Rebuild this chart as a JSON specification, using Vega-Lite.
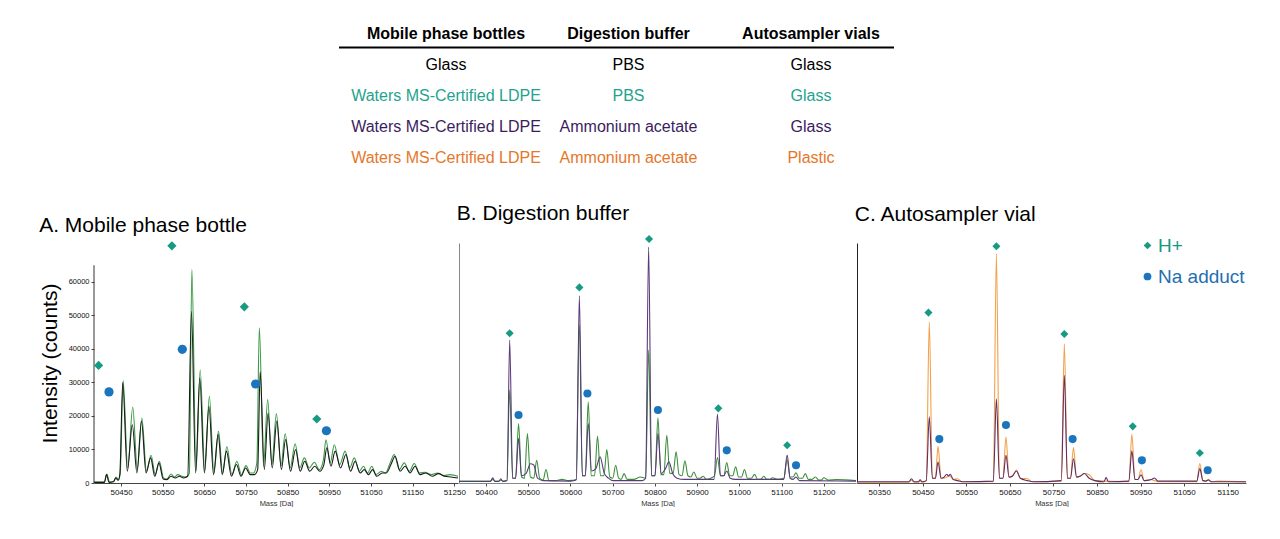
{
"$schema": "https://vega.github.io/schema/vega-lite/v6.json",
"padding": {"left": 39, "top": 18, "right": 0, "bottom": 0},
"bounds": "flush",
"spacing": 70,
"resolve": {"scale": {"color": "independent", "shape": "independent"}, "legend": {"color": "independent", "shape": "independent"}},
"config": {
  "view": {"stroke": null},
  "font": "Liberation Sans",
  "title": {"fontSize": 21, "fontWeight": "normal", "anchor": "start", "color": "#000", "baseline": "alphabetic", "font": "Liberation Sans", "frame": "bounds"},
  "axis": {"labelFont": "Liberation Sans", "titleFont": "Liberation Sans", "titleFontWeight": "normal", "grid": false, "labelColor": "#111", "titleColor": "#333", "tickColor": "#444", "domainColor": "#444", "labelOverlap": false}
},
"datasets": {
  "tbl": [
    {"r": 0, "c": 1, "t": "Mobile phase bottles", "g": "k"},
    {"r": 0, "c": 2, "t": "Digestion buffer", "g": "k"},
    {"r": 0, "c": 3, "t": "Autosampler vials", "g": "k"},
    {"r": 1, "c": 1, "t": "Glass", "g": "k"},
    {"r": 1, "c": 2, "t": "PBS", "g": "k"},
    {"r": 1, "c": 3, "t": "Glass", "g": "k"},
    {"r": 2, "c": 1, "t": "Waters MS-Certified LDPE", "g": "t"},
    {"r": 2, "c": 2, "t": "PBS", "g": "t"},
    {"r": 2, "c": 3, "t": "Glass", "g": "t"},
    {"r": 3, "c": 1, "t": "Waters MS-Certified LDPE", "g": "p"},
    {"r": 3, "c": 2, "t": "Ammonium acetate", "g": "p"},
    {"r": 3, "c": 3, "t": "Glass", "g": "p"},
    {"r": 4, "c": 1, "t": "Waters MS-Certified LDPE", "g": "o"},
    {"r": 4, "c": 2, "t": "Ammonium acetate", "g": "o"},
    {"r": 4, "c": 3, "t": "Plastic", "g": "o"}
  ],
  "am": [
    {"t": "H+", "x": 50396, "y": 35100},
    {"t": "H+", "x": 50572, "y": 70800},
    {"t": "H+", "x": 50746, "y": 52600},
    {"t": "H+", "x": 50920, "y": 19100},
    {"t": "Na adduct", "x": 50421, "y": 27200},
    {"t": "Na adduct", "x": 50597, "y": 39900},
    {"t": "Na adduct", "x": 50773, "y": 29550},
    {"t": "Na adduct", "x": 50943, "y": 15600}
  ],
  "bm": [
    {"t": "H+", "x": 50456, "y": 62.4},
    {"t": "H+", "x": 50621, "y": 81.5},
    {"t": "H+", "x": 50786, "y": 101.7},
    {"t": "H+", "x": 50950, "y": 31.1},
    {"t": "H+", "x": 51113, "y": 15.7},
    {"t": "Na adduct", "x": 50477, "y": 28.3},
    {"t": "Na adduct", "x": 50640, "y": 37.3},
    {"t": "Na adduct", "x": 50807, "y": 30.4},
    {"t": "Na adduct", "x": 50970, "y": 13.6},
    {"t": "Na adduct", "x": 51134, "y": 7.4}
  ],
  "cm": [
    {"t": "H+", "x": 50463, "y": 72.2},
    {"t": "H+", "x": 50619, "y": 100.3},
    {"t": "H+", "x": 50775, "y": 63.1},
    {"t": "H+", "x": 50932, "y": 24.0},
    {"t": "H+", "x": 51086, "y": 12.7},
    {"t": "Na adduct", "x": 50488, "y": 18.6},
    {"t": "Na adduct", "x": 50641, "y": 24.6},
    {"t": "Na adduct", "x": 50794, "y": 18.6},
    {"t": "Na adduct", "x": 50953, "y": 9.6},
    {"t": "Na adduct", "x": 51104, "y": 5.4}
  ],
  "a": [
    {"s":"g","x":50385,"y":300},{"s":"g","x":50410,"y":300},{"s":"g","x":50416,"y":2700},{"s":"g","x":50422,"y":300},{"s":"g","x":50433,"y":500},{"s":"g","x":50438,"y":1800},{"s":"g","x":50444,"y":1000},{"s":"g","x":50448,"y":3000},{"s":"g","x":50455,"y":30600},{"s":"g","x":50466,"y":4500},{"s":"g","x":50478,"y":22700},{"s":"g","x":50489,"y":4000},{"s":"g","x":50500,"y":19400},{"s":"g","x":50511,"y":3500},{"s":"g","x":50522,"y":8300},{"s":"g","x":50532,"y":2500},{"s":"g","x":50542,"y":6500},{"s":"g","x":50552,"y":1500},{"s":"g","x":50560,"y":1200},{"s":"g","x":50570,"y":2700},{"s":"g","x":50578,"y":1800},{"s":"g","x":50586,"y":2500},{"s":"g","x":50596,"y":2000},{"s":"g","x":50606,"y":1800},{"s":"g","x":50614,"y":3000},{"s":"g","x":50620,"y":63700},{"s":"g","x":50630,"y":3500},{"s":"g","x":50640,"y":33800},{"s":"g","x":50651,"y":3500},{"s":"g","x":50662,"y":25900},{"s":"g","x":50673,"y":3000},{"s":"g","x":50684,"y":15400},{"s":"g","x":50694,"y":3000},{"s":"g","x":50704,"y":10900},{"s":"g","x":50716,"y":2500},{"s":"g","x":50728,"y":6500},{"s":"g","x":50739,"y":2500},{"s":"g","x":50750,"y":5200},{"s":"g","x":50760,"y":3000},{"s":"g","x":50768,"y":3000},{"s":"g","x":50776,"y":6000},{"s":"g","x":50782,"y":46300},{"s":"g","x":50792,"y":5000},{"s":"g","x":50802,"y":24900},{"s":"g","x":50812,"y":5500},{"s":"g","x":50823,"y":20700},{"s":"g","x":50834,"y":5000},{"s":"g","x":50844,"y":14700},{"s":"g","x":50856,"y":4500},{"s":"g","x":50868,"y":11700},{"s":"g","x":50879,"y":4500},{"s":"g","x":50890,"y":7500},{"s":"g","x":50902,"y":4500},{"s":"g","x":50914,"y":6200},{"s":"g","x":50926,"y":4000},{"s":"g","x":50936,"y":7000},{"s":"g","x":50942,"y":12900},{"s":"g","x":50952,"y":6000},{"s":"g","x":50962,"y":11400},{"s":"g","x":50975,"y":5500},{"s":"g","x":50988,"y":9500},{"s":"g","x":50999,"y":4500},{"s":"g","x":51010,"y":7500},{"s":"g","x":51022,"y":3500},{"s":"g","x":51032,"y":5000},{"s":"g","x":51042,"y":3000},{"s":"g","x":51052,"y":5000},{"s":"g","x":51062,"y":2500},{"s":"g","x":51075,"y":3500},{"s":"g","x":51085,"y":3000},{"s":"g","x":51096,"y":6000},{"s":"g","x":51106,"y":8500},{"s":"g","x":51118,"y":4000},{"s":"g","x":51130,"y":6000},{"s":"g","x":51142,"y":3500},{"s":"g","x":51154,"y":5800},{"s":"g","x":51166,"y":3000},{"s":"g","x":51180,"y":3200},{"s":"g","x":51195,"y":2500},{"s":"g","x":51210,"y":3000},{"s":"g","x":51225,"y":2200},{"s":"g","x":51240,"y":2500},{"s":"g","x":51259,"y":2000},
    {"s":"k","x":50385,"y":200},{"s":"k","x":50410,"y":200},{"s":"k","x":50415,"y":2500},{"s":"k","x":50421,"y":200},{"s":"k","x":50432,"y":400},{"s":"k","x":50437,"y":1500},{"s":"k","x":50443,"y":800},{"s":"k","x":50447,"y":2500},{"s":"k","x":50454,"y":30000},{"s":"k","x":50465,"y":3500},{"s":"k","x":50477,"y":17400},{"s":"k","x":50488,"y":3000},{"s":"k","x":50499,"y":18500},{"s":"k","x":50510,"y":3000},{"s":"k","x":50521,"y":7500},{"s":"k","x":50531,"y":2000},{"s":"k","x":50541,"y":6000},{"s":"k","x":50551,"y":1200},{"s":"k","x":50560,"y":1000},{"s":"k","x":50570,"y":2000},{"s":"k","x":50580,"y":1500},{"s":"k","x":50590,"y":2000},{"s":"k","x":50600,"y":1500},{"s":"k","x":50610,"y":2000},{"s":"k","x":50619,"y":51200},{"s":"k","x":50629,"y":3000},{"s":"k","x":50639,"y":31300},{"s":"k","x":50650,"y":3000},{"s":"k","x":50661,"y":22900},{"s":"k","x":50672,"y":2500},{"s":"k","x":50683,"y":14500},{"s":"k","x":50693,"y":2500},{"s":"k","x":50703,"y":9500},{"s":"k","x":50715,"y":2000},{"s":"k","x":50727,"y":5500},{"s":"k","x":50738,"y":2000},{"s":"k","x":50749,"y":4500},{"s":"k","x":50760,"y":2500},{"s":"k","x":50770,"y":2500},{"s":"k","x":50778,"y":4000},{"s":"k","x":50784,"y":33300},{"s":"k","x":50794,"y":4000},{"s":"k","x":50803,"y":20900},{"s":"k","x":50813,"y":4500},{"s":"k","x":50824,"y":18500},{"s":"k","x":50835,"y":4000},{"s":"k","x":50845,"y":13000},{"s":"k","x":50857,"y":3500},{"s":"k","x":50869,"y":10000},{"s":"k","x":50880,"y":3500},{"s":"k","x":50891,"y":6500},{"s":"k","x":50903,"y":3500},{"s":"k","x":50915,"y":5000},{"s":"k","x":50927,"y":3500},{"s":"k","x":50937,"y":5500},{"s":"k","x":50944,"y":10500},{"s":"k","x":50954,"y":5000},{"s":"k","x":50964,"y":9500},{"s":"k","x":50977,"y":4500},{"s":"k","x":50990,"y":8500},{"s":"k","x":51001,"y":3500},{"s":"k","x":51012,"y":6500},{"s":"k","x":51024,"y":3000},{"s":"k","x":51034,"y":4000},{"s":"k","x":51044,"y":2500},{"s":"k","x":51054,"y":4000},{"s":"k","x":51064,"y":2000},{"s":"k","x":51077,"y":3000},{"s":"k","x":51087,"y":3000},{"s":"k","x":51098,"y":5500},{"s":"k","x":51108,"y":8000},{"s":"k","x":51120,"y":3500},{"s":"k","x":51132,"y":5000},{"s":"k","x":51144,"y":3000},{"s":"k","x":51156,"y":5000},{"s":"k","x":51168,"y":2500},{"s":"k","x":51182,"y":3000},{"s":"k","x":51197,"y":2000},{"s":"k","x":51212,"y":2800},{"s":"k","x":51227,"y":2000},{"s":"k","x":51242,"y":1800},{"s":"k","x":51259,"y":1500}
  ],
  "b": [
    {"s":"g","x":50336,"y":0.8},{"s":"g","x":50410,"y":0.8},{"s":"g","x":50416,"y":1.5},{"s":"g","x":50421,"y":0.8},{"s":"g","x":50430,"y":0.8},{"s":"g","x":50435,"y":1.2},{"s":"g","x":50440,"y":0.8},{"s":"g","x":50449,"y":1},{"s":"g","x":50456,"y":38.7},{"s":"g","x":50463,"y":2},{"s":"g","x":50470,"y":2},{"s":"g","x":50477,"y":24.8},{"s":"g","x":50484,"y":2.5},{"s":"g","x":50491,"y":2},{"s":"g","x":50498,"y":20.6},{"s":"g","x":50505,"y":2.5},{"s":"g","x":50513,"y":2},{"s":"g","x":50520,"y":9.5},{"s":"g","x":50527,"y":2},{"s":"g","x":50535,"y":1.2},{"s":"g","x":50542,"y":5.6},{"s":"g","x":50549,"y":1},{"s":"g","x":50565,"y":1},{"s":"g","x":50580,"y":1.5},{"s":"g","x":50595,"y":1},{"s":"g","x":50613,"y":1.2},{"s":"g","x":50621,"y":65.9},{"s":"g","x":50628,"y":3},{"s":"g","x":50635,"y":3},{"s":"g","x":50642,"y":33.8},{"s":"g","x":50649,"y":3},{"s":"g","x":50657,"y":3},{"s":"g","x":50664,"y":19.5},{"s":"g","x":50671,"y":3},{"s":"g","x":50679,"y":3},{"s":"g","x":50686,"y":13.9},{"s":"g","x":50693,"y":2.5},{"s":"g","x":50700,"y":2},{"s":"g","x":50707,"y":7.4},{"s":"g","x":50714,"y":2},{"s":"g","x":50720,"y":1.5},{"s":"g","x":50727,"y":3.9},{"s":"g","x":50734,"y":1.5},{"s":"g","x":50750,"y":1.5},{"s":"g","x":50765,"y":2.5},{"s":"g","x":50778,"y":2},{"s":"g","x":50785,"y":55.4},{"s":"g","x":50792,"y":3},{"s":"g","x":50800,"y":3},{"s":"g","x":50807,"y":27.2},{"s":"g","x":50814,"y":3.5},{"s":"g","x":50821,"y":3.5},{"s":"g","x":50828,"y":19.9},{"s":"g","x":50835,"y":4},{"s":"g","x":50843,"y":4},{"s":"g","x":50850,"y":13},{"s":"g","x":50857,"y":3.5},{"s":"g","x":50864,"y":3},{"s":"g","x":50871,"y":9.2},{"s":"g","x":50878,"y":3},{"s":"g","x":50885,"y":2.5},{"s":"g","x":50892,"y":4.6},{"s":"g","x":50900,"y":2},{"s":"g","x":50907,"y":2},{"s":"g","x":50914,"y":2.8},{"s":"g","x":50922,"y":1.5},{"s":"g","x":50932,"y":2},{"s":"g","x":50941,"y":3},{"s":"g","x":50948,"y":10.6},{"s":"g","x":50955,"y":3},{"s":"g","x":50963,"y":3},{"s":"g","x":50970,"y":8.5},{"s":"g","x":50977,"y":3},{"s":"g","x":50984,"y":3},{"s":"g","x":50991,"y":6.7},{"s":"g","x":50998,"y":2.5},{"s":"g","x":51005,"y":2.5},{"s":"g","x":51012,"y":5.6},{"s":"g","x":51019,"y":2},{"s":"g","x":51028,"y":2},{"s":"g","x":51036,"y":3.6},{"s":"g","x":51043,"y":1.5},{"s":"g","x":51050,"y":1.5},{"s":"g","x":51058,"y":2.8},{"s":"g","x":51065,"y":1.5},{"s":"g","x":51072,"y":1.5},{"s":"g","x":51078,"y":2.2},{"s":"g","x":51090,"y":1.5},{"s":"g","x":51105,"y":2},{"s":"g","x":51113,"y":9.7},{"s":"g","x":51120,"y":2.5},{"s":"g","x":51127,"y":2.5},{"s":"g","x":51134,"y":4.3},{"s":"g","x":51141,"y":2},{"s":"g","x":51149,"y":2},{"s":"g","x":51156,"y":3.9},{"s":"g","x":51163,"y":1.5},{"s":"g","x":51172,"y":1.5},{"s":"g","x":51180,"y":2.5},{"s":"g","x":51188,"y":1.2},{"s":"g","x":51194,"y":1.2},{"s":"g","x":51200,"y":2.2},{"s":"g","x":51210,"y":1.2},{"s":"g","x":51230,"y":1.4},{"s":"g","x":51276,"y":1},
    {"s":"p","x":50336,"y":0.6},{"s":"p","x":50410,"y":0.6},{"s":"p","x":50416,"y":2.2},{"s":"p","x":50421,"y":0.6},{"s":"p","x":50430,"y":0.6},{"s":"p","x":50435,"y":1.8},{"s":"p","x":50440,"y":0.6},{"s":"p","x":50450,"y":1},{"s":"p","x":50456,"y":59.6},{"s":"p","x":50463,"y":2},{"s":"p","x":50470,"y":2},{"s":"p","x":50477,"y":18.5},{"s":"p","x":50484,"y":3},{"s":"p","x":50495,"y":4},{"s":"p","x":50505,"y":8},{"s":"p","x":50513,"y":7.5},{"s":"p","x":50522,"y":2},{"s":"p","x":50535,"y":1},{"s":"p","x":50600,"y":0.8},{"s":"p","x":50614,"y":1.5},{"s":"p","x":50621,"y":78},{"s":"p","x":50628,"y":3},{"s":"p","x":50635,"y":3},{"s":"p","x":50642,"y":24.8},{"s":"p","x":50650,"y":5},{"s":"p","x":50660,"y":6},{"s":"p","x":50670,"y":10.9},{"s":"p","x":50680,"y":4},{"s":"p","x":50690,"y":2},{"s":"p","x":50700,"y":1},{"s":"p","x":50770,"y":1},{"s":"p","x":50778,"y":2},{"s":"p","x":50785,"y":98.3},{"s":"p","x":50792,"y":3},{"s":"p","x":50800,"y":3},{"s":"p","x":50807,"y":20.6},{"s":"p","x":50815,"y":4},{"s":"p","x":50825,"y":6},{"s":"p","x":50833,"y":8.8},{"s":"p","x":50842,"y":4},{"s":"p","x":50852,"y":2},{"s":"p","x":50870,"y":1.5},{"s":"p","x":50940,"y":1.5},{"s":"p","x":50948,"y":28.7},{"s":"p","x":50955,"y":3},{"s":"p","x":50963,"y":3},{"s":"p","x":50970,"y":5},{"s":"p","x":50978,"y":2},{"s":"p","x":50990,"y":1.5},{"s":"p","x":51105,"y":1.5},{"s":"p","x":51113,"y":11.6},{"s":"p","x":51120,"y":2},{"s":"p","x":51127,"y":1.5},{"s":"p","x":51134,"y":2.5},{"s":"p","x":51142,"y":1},{"s":"p","x":51276,"y":0.8}
  ],
  "c": [
    {"s":"o","x":50299,"y":0.3},{"s":"o","x":50418,"y":0.3},{"s":"o","x":50424,"y":1.2},{"s":"o","x":50430,"y":0.3},{"s":"o","x":50440,"y":0.3},{"s":"o","x":50444,"y":1},{"s":"o","x":50448,"y":0.3},{"s":"o","x":50458,"y":0.8},{"s":"o","x":50465,"y":68.2},{"s":"o","x":50472,"y":2},{"s":"o","x":50479,"y":2},{"s":"o","x":50485,"y":15.5},{"s":"o","x":50492,"y":2},{"s":"o","x":50499,"y":2},{"s":"o","x":50505,"y":2.5},{"s":"o","x":50512,"y":3},{"s":"o","x":50520,"y":1.5},{"s":"o","x":50530,"y":1.8},{"s":"o","x":50540,"y":0.5},{"s":"o","x":50612,"y":0.6},{"s":"o","x":50619,"y":97.2},{"s":"o","x":50626,"y":2},{"s":"o","x":50634,"y":2},{"s":"o","x":50641,"y":19.5},{"s":"o","x":50648,"y":2.5},{"s":"o","x":50656,"y":3},{"s":"o","x":50665,"y":5.5},{"s":"o","x":50674,"y":2},{"s":"o","x":50691,"y":1.8},{"s":"o","x":50700,"y":0.5},{"s":"o","x":50768,"y":0.8},{"s":"o","x":50775,"y":59},{"s":"o","x":50782,"y":2},{"s":"o","x":50789,"y":2},{"s":"o","x":50796,"y":15},{"s":"o","x":50803,"y":2.5},{"s":"o","x":50812,"y":3},{"s":"o","x":50821,"y":4},{"s":"o","x":50832,"y":3.5},{"s":"o","x":50845,"y":1},{"s":"o","x":50923,"y":0.6},{"s":"o","x":50930,"y":20.6},{"s":"o","x":50937,"y":1.5},{"s":"o","x":50944,"y":1.5},{"s":"o","x":50951,"y":5.6},{"s":"o","x":50958,"y":1},{"s":"o","x":50974,"y":1.5},{"s":"o","x":50982,"y":1},{"s":"o","x":50990,"y":0.5},{"s":"o","x":51079,"y":0.6},{"s":"o","x":51086,"y":8.2},{"s":"o","x":51093,"y":1},{"s":"o","x":51100,"y":0.8},{"s":"o","x":51106,"y":1.6},{"s":"o","x":51112,"y":0.5},{"s":"o","x":51127,"y":0.8},{"s":"o","x":51192,"y":0.4},
    {"s":"p","x":50299,"y":0.5},{"s":"p","x":50418,"y":0.5},{"s":"p","x":50424,"y":1.8},{"s":"p","x":50430,"y":0.5},{"s":"p","x":50440,"y":0.5},{"s":"p","x":50444,"y":1.4},{"s":"p","x":50448,"y":0.5},{"s":"p","x":50458,"y":1},{"s":"p","x":50465,"y":28},{"s":"p","x":50472,"y":2},{"s":"p","x":50479,"y":2},{"s":"p","x":50485,"y":8.9},{"s":"p","x":50492,"y":2},{"s":"p","x":50499,"y":2.5},{"s":"p","x":50505,"y":3.7},{"s":"p","x":50509,"y":3},{"s":"p","x":50513,"y":3.7},{"s":"p","x":50520,"y":1.5},{"s":"p","x":50530,"y":1},{"s":"p","x":50545,"y":0.5},{"s":"p","x":50612,"y":0.8},{"s":"p","x":50619,"y":35.7},{"s":"p","x":50626,"y":2},{"s":"p","x":50634,"y":2},{"s":"p","x":50641,"y":11.7},{"s":"p","x":50648,"y":2.5},{"s":"p","x":50656,"y":3},{"s":"p","x":50665,"y":5.1},{"s":"p","x":50674,"y":2},{"s":"p","x":50690,"y":1},{"s":"p","x":50705,"y":0.5},{"s":"p","x":50768,"y":1},{"s":"p","x":50775,"y":45.6},{"s":"p","x":50782,"y":2},{"s":"p","x":50789,"y":2},{"s":"p","x":50796,"y":10.3},{"s":"p","x":50803,"y":2.5},{"s":"p","x":50812,"y":3},{"s":"p","x":50821,"y":4},{"s":"p","x":50832,"y":2},{"s":"p","x":50845,"y":1},{"s":"p","x":50866,"y":0.5},{"s":"p","x":50871,"y":2.3},{"s":"p","x":50876,"y":0.5},{"s":"p","x":50923,"y":0.8},{"s":"p","x":50930,"y":13.6},{"s":"p","x":50937,"y":1.5},{"s":"p","x":50944,"y":1.5},{"s":"p","x":50951,"y":3.5},{"s":"p","x":50958,"y":1},{"s":"p","x":50975,"y":1.5},{"s":"p","x":50982,"y":2.1},{"s":"p","x":50990,"y":0.8},{"s":"p","x":51079,"y":0.8},{"s":"p","x":51086,"y":6.1},{"s":"p","x":51093,"y":1},{"s":"p","x":51100,"y":0.8},{"s":"p","x":51106,"y":1.3},{"s":"p","x":51112,"y":0.5},{"s":"p","x":51192,"y":0.5}
  ]
},
"vconcat": [
  {
    "width": 1152, "height": 155,
    "data": {"name": "tbl"},
    "layer": [
      {
        "data": {"values": [{}]},
        "mark": {"type": "rule", "color": "#000", "strokeWidth": 2},
        "encoding": {
          "x": {"datum": 0.4137, "type": "quantitative", "scale": {"domain": [-0.9288, 5.3835], "nice": false, "zero": false}, "axis": null},
          "x2": {"datum": 3.4548},
          "y": {"datum": 0.45, "type": "quantitative", "scale": {"domain": [-0.5, 4.5], "reverse": true, "nice": false, "zero": false}, "axis": null}
        }
      },
      {
        "transform": [{"filter": "datum.r == 0"}],
        "mark": {"type": "text", "fontSize": 16, "fontWeight": "bold", "baseline": "middle", "align": "center", "font": "Liberation Sans"},
        "encoding": {
          "x": {"field": "c", "type": "quantitative", "axis": null},
          "y": {"field": "r", "type": "quantitative", "axis": null},
          "text": {"field": "t"},
          "color": {"field": "g", "type": "nominal", "scale": {"domain": ["k", "t", "p", "o"], "range": ["#000000", "#1fa38e", "#3b1d5e", "#e5772a"]}, "legend": null}
        }
      },
      {
        "transform": [{"filter": "datum.r > 0"}],
        "mark": {"type": "text", "fontSize": 16, "baseline": "middle", "align": "center", "font": "Liberation Sans"},
        "encoding": {
          "x": {"field": "c", "type": "quantitative", "axis": null},
          "y": {"field": "r", "type": "quantitative", "axis": null},
          "text": {"field": "t"},
          "color": {"field": "g", "type": "nominal", "legend": null}
        }
      }
    ]
  },
  {
    "hconcat": [
      {
        "width": 364, "height": 240,
        "title": {"text": "A. Mobile phase bottle", "offset": 5},
        "resolve": {"scale": {"color": "independent", "shape": "independent"}},
        "layer": [
          {
            "data": {"name": "a"},
            "mark": {"type": "line", "interpolate": "monotone", "strokeWidth": 1.1},
            "encoding": {
              "x": {"field": "x", "type": "quantitative", "scale": {"domain": [50385, 51259], "nice": false, "zero": false},
                    "axis": {"values": [50450, 50550, 50650, 50750, 50850, 50950, 51050, 51150, 51250], "format": "d", "title": "Mass [Da]", "labelFontSize": 8, "titleFontSize": 7.5, "tickSize": 3, "labelPadding": 2, "titlePadding": 3, "labelFlush": false, "labelOverlap": false}},
              "y": {"field": "y", "type": "quantitative", "scale": {"domain": [0, 71640], "nice": false},
                    "axis": {"values": [0, 10000, 20000, 30000, 40000, 50000, 60000], "tickCount": 7, "format": "d", "title": "Intensity (counts)", "titleFontSize": 21, "titleColor": "#000", "labelFontSize": 7.5, "tickSize": 3, "labelPadding": 2, "domain": false, "titlePadding": 8, "labelOverlap": false, "labelSeparation": 0, "labelColor": "#111"}},
              "color": {"field": "s", "type": "nominal", "scale": {"domain": ["k", "g"], "range": ["#1a1a1a", "#3a9a45"]}, "legend": null}
            }
          },
          {
            "data": {"values": [{}]},
            "mark": {"type": "rule", "color": "#333", "strokeWidth": 1},
            "encoding": {
              "x": {"datum": 50385, "type": "quantitative"},
              "y": {"datum": 0, "type": "quantitative", "axis": {"values": [0, 10000, 20000, 30000, 40000, 50000, 60000], "tickCount": 7, "format": "d", "title": "Intensity (counts)", "titleFontSize": 21, "titleColor": "#000", "labelFontSize": 7.5, "tickSize": 3, "labelPadding": 2, "domain": false, "titlePadding": 8, "labelOverlap": false, "labelSeparation": 0, "labelColor": "#111"}},
              "y2": {"datum": 65000}
            }
          },
          {
            "data": {"name": "am"},
            "mark": {"type": "point", "filled": true, "size": 85, "opacity": 1},
            "encoding": {
              "x": {"field": "x", "type": "quantitative"},
              "y": {"field": "y", "type": "quantitative", "axis": {"values": [0, 10000, 20000, 30000, 40000, 50000, 60000], "tickCount": 7, "format": "d", "title": "Intensity (counts)", "titleFontSize": 21, "titleColor": "#000", "labelFontSize": 7.5, "tickSize": 3, "labelPadding": 2, "domain": false, "titlePadding": 8, "labelOverlap": false, "labelSeparation": 0, "labelColor": "#111"}},
              "shape": {"field": "t", "type": "nominal", "scale": {"domain": ["H+", "Na adduct"], "range": ["diamond", "circle"]}, "legend": null},
              "color": {"field": "t", "type": "nominal", "scale": {"domain": ["H+", "Na adduct"], "range": ["#169b82", "#1b75bc"]}, "legend": null}
            }
          }
        ]
      },
      {
        "width": 397, "height": 240,
        "title": {"text": "B. Digestion buffer", "offset": 11},
        "resolve": {"scale": {"color": "independent", "shape": "independent"}},
        "layer": [
          {
            "data": {"name": "b"},
            "mark": {"type": "line", "interpolate": "monotone", "strokeWidth": 1.1},
            "encoding": {
              "x": {"field": "x", "type": "quantitative", "scale": {"domain": [50336, 51276], "nice": false, "zero": false},
                    "axis": {"values": [50400, 50500, 50600, 50700, 50800, 50900, 51000, 51100, 51200], "format": "d", "title": "Mass [Da]", "labelFontSize": 8, "titleFontSize": 7.5, "tickSize": 3, "labelPadding": 2, "titlePadding": 3, "labelFlush": false, "domainColor": "#888"}},
              "y": {"field": "y", "type": "quantitative", "scale": {"domain": [0, 100], "nice": false},
                    "axis": {"labels": false, "ticks": false, "title": null, "domainColor": "#888"}},
              "color": {"field": "s", "type": "nominal", "scale": {"domain": ["g", "p"], "range": ["#3d8f3d", "#5b3a7a"]}, "legend": null}
            }
          },
          {
            "data": {"name": "bm"},
            "mark": {"type": "point", "filled": true, "size": 65, "opacity": 1},
            "encoding": {
              "x": {"field": "x", "type": "quantitative"},
              "y": {"field": "y", "type": "quantitative"},
              "shape": {"field": "t", "type": "nominal", "scale": {"domain": ["H+", "Na adduct"], "range": ["diamond", "circle"]}, "legend": null},
              "color": {"field": "t", "type": "nominal", "scale": {"domain": ["H+", "Na adduct"], "range": ["#169b82", "#1b75bc"]}, "legend": null}
            }
          }
        ]
      },
      {
        "width": 389, "height": 240,
        "title": {"text": "C. Autosampler vial", "offset": 11},
        "resolve": {"scale": {"color": "independent", "shape": "independent"}},
        "layer": [
          {
            "data": {"name": "c"},
            "mark": {"type": "line", "interpolate": "monotone", "strokeWidth": 1.1},
            "encoding": {
              "x": {"field": "x", "type": "quantitative", "scale": {"domain": [50299, 51192], "nice": false, "zero": false},
                    "axis": {"values": [50350, 50450, 50550, 50650, 50750, 50850, 50950, 51050, 51150], "format": "d", "title": "Mass [Da]", "labelFontSize": 8, "titleFontSize": 7.5, "tickSize": 3, "labelPadding": 2, "titlePadding": 3, "labelFlush": false, "domainColor": "#555"}},
              "y": {"field": "y", "type": "quantitative", "scale": {"domain": [0, 101.7], "nice": false},
                    "axis": {"labels": false, "ticks": false, "title": null, "domainColor": "#222"}},
              "color": {"field": "s", "type": "nominal", "scale": {"domain": ["o", "p"], "range": ["#f2a04a", "#5e2e68"]}, "legend": null}
            }
          },
          {
            "data": {"name": "cm"},
            "mark": {"type": "point", "filled": true, "size": 65, "opacity": 1},
            "encoding": {
              "x": {"field": "x", "type": "quantitative"},
              "y": {"field": "y", "type": "quantitative"},
              "shape": {"field": "t", "type": "nominal", "scale": {"domain": ["H+", "Na adduct"], "range": ["diamond", "circle"]},
                        "legend": {"title": null, "orient": "none", "legendX": 281, "legendY": -7, "labelFontSize": 19, "labelFont": "Liberation Sans", "symbolSize": 60, "rowPadding": 11, "labelOffset": 1, "padding": 0,
                                   "labelColor": {"expr": "datum.value === 'H+' ? '#17977f' : '#1f6fb0'"}}},
              "color": {"field": "t", "type": "nominal", "scale": {"domain": ["H+", "Na adduct"], "range": ["#169b82", "#1b75bc"]},
                        "legend": {"title": null, "orient": "none", "legendX": 281, "legendY": -7, "labelFontSize": 19, "labelFont": "Liberation Sans", "symbolSize": 60, "rowPadding": 11, "labelOffset": 1, "padding": 0,
                                   "labelColor": {"expr": "datum.value === 'H+' ? '#17977f' : '#1f6fb0'"}}}
            }
          }
        ]
      }
    ],
    "spacing": 1,
    "bounds": "flush",
    "resolve": {"scale": {"color": "independent", "shape": "independent"}, "legend": {"color": "independent", "shape": "independent"}}
  }
]
}
